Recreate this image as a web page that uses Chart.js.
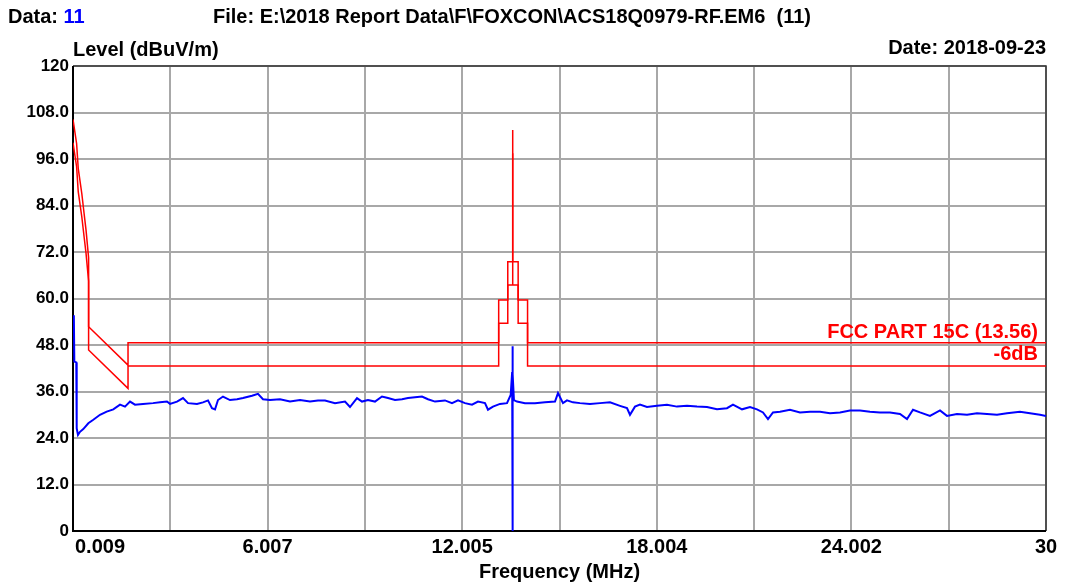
<!DOCTYPE html>
<html lang="en">
<head>
<meta charset="UTF-8">
<title>Level (dBuV/m)</title>
<script src="https://cdn.jsdelivr.net/npm/chart.js"></script>
<style>
  body { margin: 0; background: #fff; }
  canvas { display: block; }
</style>
</head>
<body>
<canvas id="grafico" width="1069" height="587"></canvas>
<script>
// medida (azul)
const measFreq = [0.035, 0.05, 0.11, 0.123, 0.163, 0.225, 0.326, 0.481, 0.635, 0.841, 1.048, 1.251, 1.458, 1.612, 1.766, 1.920,
  2.167, 2.475, 2.691, 2.906, 2.999, 3.215, 3.400, 3.554, 3.831, 4.016, 4.170, 4.293, 4.386, 4.478, 4.632, 4.848,
  5.064, 5.249, 5.526, 5.711, 5.865, 6.081, 6.389, 6.698, 7.006, 7.314, 7.561, 7.776, 8.085, 8.393, 8.547, 8.763,
  8.917, 9.102, 9.317, 9.533, 9.718, 9.934, 10.150, 10.335, 10.550, 10.766, 10.951, 11.167, 11.475, 11.691, 11.876,
  12.092, 12.307, 12.492, 12.708, 12.800, 12.954, 13.170, 13.386, 13.500, 13.545, 13.555, 13.560, 13.565, 13.600,
  13.694, 13.941, 14.249, 14.557, 14.866, 14.958, 15.112, 15.235, 15.420, 15.636, 15.944, 16.253, 16.561, 16.869,
  17.085, 17.177, 17.331, 17.485, 17.701, 18.009, 18.317, 18.626, 18.934, 19.242, 19.551, 19.859, 20.167, 20.352,
  20.630, 20.876, 21.092, 21.277, 21.431, 21.585, 21.801, 22.109, 22.417, 22.726, 23.034, 23.342, 23.650, 23.958,
  24.267, 24.575, 24.883, 25.192, 25.500, 25.716, 25.900, 26.116, 26.424, 26.733, 26.948, 27.256, 27.565, 27.873,
  28.181, 28.489, 28.798, 29.198, 29.507, 29.815, 30.000];
const measLevel = [55.7, 43.7, 43.5, 26.5, 24.8, 25.6, 26.3, 27.8, 28.7, 30.0, 30.8, 31.4, 32.6, 32.1, 33.4, 32.6,
  32.8, 33.0, 33.2, 33.4, 32.8, 33.4, 34.3, 33.0, 32.8, 33.2, 33.7, 31.7, 31.4, 33.8, 34.7, 33.8,
  34.0, 34.3, 34.9, 35.4, 34.0, 33.8, 34.0, 33.4, 33.8, 33.4, 33.7, 33.7, 33.0, 33.4, 32.0, 34.3,
  33.4, 33.8, 33.4, 34.7, 34.3, 33.8, 34.0, 34.3, 34.5, 34.7, 34.0, 33.4, 33.7, 33.0, 33.7,
  33.0, 32.6, 33.4, 33.0, 31.3, 32.1, 32.8, 33.0, 35.1, 41.0, 47.7, 0, 40.5, 33.8,
  33.4, 33.0, 33.0, 33.2, 33.4, 35.6, 33.0, 33.7, 33.2, 33.0, 32.8, 33.0, 33.2, 32.3,
  31.7, 30.0, 32.1, 32.6, 32.0, 32.3, 32.6, 32.1, 32.3, 32.1, 32.0, 31.4, 31.7, 32.6,
  31.4, 32.0, 31.4, 30.6, 28.9, 30.6, 30.8, 31.3, 30.6, 30.8, 30.8, 30.4, 30.6, 31.1,
  31.1, 30.8, 30.6, 30.6, 30.2, 28.9, 31.3, 30.6, 29.7, 31.1, 29.7, 30.2, 30.0, 30.4,
  30.2, 30.0, 30.4, 30.8, 30.4, 30.0, 29.7];

// limite FCC PART 15C (13.56) e -6dB
const limitFreq = [0.009, 0.12, 0.17, 0.28, 0.35, 0.41, 0.49, 0.49, 1.705, 1.705, 13.13, 13.13, 13.41, 13.41,
  13.553, 13.553, 13.567, 13.567, 13.73, 13.73, 14.02, 14.02, 30];
const limitLevel = [106.2, 100.0, 93.6, 87.1, 82.0, 77.7, 70.5, 52.7, 42.8, 48.6, 48.6, 59.6, 59.6, 69.5,
  69.5, 103.5, 103.5, 69.5, 69.5, 59.6, 59.6, 48.6, 48.6];
const marginLevel = [100.2, 94.0, 87.6, 81.1, 76.0, 71.7, 64.5, 46.7, 36.8, 42.6, 42.6, 53.6, 53.6, 63.5,
  63.5, 97.5, 97.5, 63.5, 63.5, 53.6, 53.6, 42.6, 42.6];

const xGridTicks = [0.009, 3.008, 6.007, 9.006, 12.005, 15.005, 18.004, 21.003, 24.002, 27.001, 30];
const xTickLabels = ['0.009', '', '6.007', '', '12.005', '', '18.004', '', '24.002', '', '30'];
const yTickValues = [0, 12, 24, 36, 48, 60, 72, 84, 96, 108, 120];
const yTickLabels = ['0', '12.0', '24.0', '36.0', '48.0', '60.0', '72.0', '84.0', '96.0', '108.0', '120'];

function pontos(xs, ys) {
  return xs.map(function (x, i) { return { x: x, y: ys[i] }; });
}

const fonte = '"Liberation Sans", Arial, sans-serif';

// moldura do grafico
const moldura = {
  id: 'moldura',
  beforeDatasetsDraw(chart) {
    const a = chart.chartArea;
    const ctx = chart.ctx;
    ctx.save();
    ctx.strokeStyle = '#333';
    ctx.lineWidth = 1.5;
    ctx.beginPath();
    ctx.moveTo(a.left, a.top); ctx.lineTo(a.right, a.top); ctx.lineTo(a.right, a.bottom);
    ctx.stroke();
    ctx.strokeStyle = '#000';
    ctx.lineWidth = 2;
    ctx.beginPath();
    ctx.moveTo(a.left, a.top); ctx.lineTo(a.left, a.bottom); ctx.lineTo(a.right, a.bottom);
    ctx.stroke();
    ctx.restore();
  }
};

// textos: cabecalho, eixo x, legendas
const textos = {
  id: 'textos',
  afterDraw(chart) {
    const ctx = chart.ctx;
    const a = chart.chartArea;
    const sx = chart.scales.x;
    const sy = chart.scales.y;
    ctx.save();
    ctx.textBaseline = 'middle';
    ctx.font = 'bold 20px ' + fonte;
    ctx.fillStyle = '#000';
    ctx.textAlign = 'left';
    ctx.fillText('Data: ', 8, 17);
    const w = ctx.measureText('Data: ').width;
    ctx.fillStyle = '#0000ff';
    ctx.fillText('11', 8 + w, 17);
    ctx.fillStyle = '#000';
    ctx.fillText('File: E:\\2018 Report Data\\F\\FOXCON\\ACS18Q0979-RF.EM6  (11)', 213, 17);
    ctx.fillText('Level (dBuV/m)', a.left, 50);
    ctx.textAlign = 'right';
    ctx.fillText('Date: 2018-09-23', a.right, 48);
    ctx.textAlign = 'center';
    ctx.fillText('Frequency (MHz)', (a.left + a.right) / 2, 572);

    // rotulos do eixo x
    for (let i = 0; i < xGridTicks.length; i++) {
      if (!xTickLabels[i]) continue;
      const px = sx.getPixelForValue(xGridTicks[i]);
      ctx.textAlign = i === 0 ? 'left' : 'center';
      ctx.fillText(xTickLabels[i], i === 0 ? px + 2 : px, 547);
    }

    // legendas dos limites
    ctx.fillStyle = '#ff0000';
    ctx.textAlign = 'right';
    ctx.textBaseline = 'alphabetic';
    ctx.fillText('FCC PART 15C (13.56)', a.right - 8, sy.getPixelForValue(limitLevel[limitLevel.length - 1]) - 5);
    ctx.fillText('-6dB', a.right - 8, sy.getPixelForValue(marginLevel[marginLevel.length - 1]) - 6);
    ctx.restore();
  }
};

const ctx = document.getElementById('grafico').getContext('2d');
new Chart(ctx, {
  type: 'scatter',
  data: {
    datasets: [
      {
        label: 'Level',
        data: pontos(measFreq, measLevel),
        showLine: true,
        borderColor: '#0000ff',
        borderWidth: 2,
        pointRadius: 0,
        tension: 0
      },
      {
        label: 'FCC PART 15C (13.56)',
        data: pontos(limitFreq, limitLevel),
        showLine: true,
        borderColor: '#ff0000',
        borderWidth: 1.5,
        pointRadius: 0,
        tension: 0
      },
      {
        label: '-6dB',
        data: pontos(limitFreq, marginLevel),
        showLine: true,
        borderColor: '#ff0000',
        borderWidth: 1.5,
        pointRadius: 0,
        tension: 0
      }
    ]
  },
  options: {
    responsive: false,
    animation: false,
    devicePixelRatio: 1,
    layout: { padding: { top: 66, right: 23, bottom: 0, left: 0 } },
    plugins: {
      legend: { display: false },
      tooltip: { enabled: false }
    },
    scales: {
      x: {
        type: 'linear',
        min: 0.009,
        max: 30,
        afterBuildTicks(scale) {
          scale.ticks = xGridTicks.map(function (v) { return { value: v }; });
        },
        afterFit(scale) { scale.height = 56; },
        grid: { color: '#a8a8a8', lineWidth: 2, drawTicks: false },
        border: { display: false },
        ticks: { display: false }
      },
      y: {
        min: 0,
        max: 120,
        afterBuildTicks(scale) {
          scale.ticks = yTickValues.map(function (v) { return { value: v }; });
        },
        afterFit(scale) { scale.width = 73; },
        grid: { color: '#a8a8a8', lineWidth: 2, drawTicks: false },
        border: { display: false },
        ticks: {
          color: '#000',
          padding: 4,
          font: { family: fonte, size: 17, weight: 'bold' },
          callback: function (v, i) { return yTickLabels[i]; }
        }
      }
    }
  },
  plugins: [moldura, textos]
});
</script>
</body>
</html>
